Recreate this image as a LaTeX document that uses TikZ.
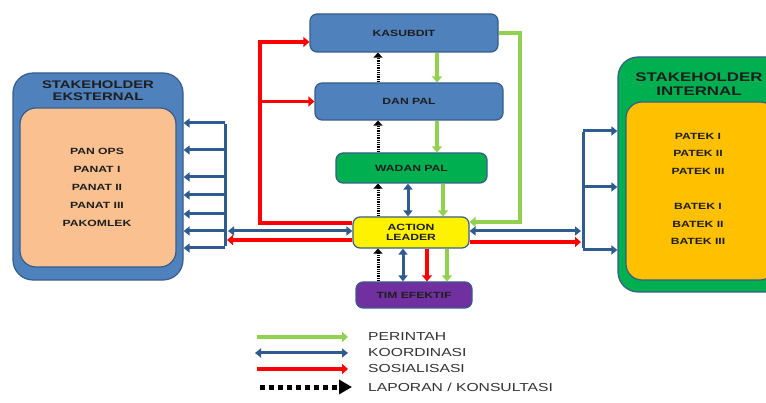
\documentclass[tikz,border=0pt]{standalone}
\usepackage{fontspec}
\setmainfont{Liberation Sans}[FakeStretch=1.35]
\usetikzlibrary{arrows.meta}
\definecolor{boxblue}{HTML}{4F81BD}
\definecolor{edgeblue}{HTML}{385D8A}
\definecolor{peach}{HTML}{FAC090}
\definecolor{gold}{HTML}{FFC000}
\definecolor{boxgreen}{HTML}{00B050}
\definecolor{purp}{HTML}{7030A0}
\definecolor{arrgreen}{HTML}{92D050}
\definecolor{arrblue}{HTML}{2F5B8F}
\definecolor{arrred}{HTML}{FF0000}
\definecolor{txt}{HTML}{1E1E1E}
\definecolor{legtxt}{HTML}{333333}
\begin{document}
\begin{tikzpicture}[x=1pt,y=-1pt,
  box/.style={draw=edgeblue, line width=1.2pt, rounded corners=7pt,
    font=\bfseries\fontsize{9}{10}\selectfont, text=txt, align=center, inner sep=0pt},
  big/.style={draw=edgeblue, line width=1.2pt, rounded corners=20pt, inner sep=0pt},
  lbl/.style={font=\bfseries\fontsize{9}{17.8}\selectfont, text=txt, align=center, inner sep=0pt},
  ttl/.style={font=\bfseries\fontsize{11}{11.5}\selectfont, text=txt, align=center, inner sep=0pt},
  leg/.style={font=\fontsize{11.6}{12}\selectfont, text=legtxt, anchor=west, inner sep=0pt},
  grn/.style={draw=arrgreen, line width=3.5pt, -{Triangle[length=6pt,width=10pt]}},
  rd/.style={draw=arrred, line width=3.5pt, -{Triangle[length=6pt,width=10pt]}},
  rdline/.style={draw=arrred, line width=3.5pt},
  blu/.style={draw=arrblue, line width=3pt, {Triangle[length=6pt,width=9pt]}-{Triangle[length=6pt,width=9pt]}},
  bluone/.style={draw=arrblue, line width=3pt, -{Triangle[length=6pt,width=9pt]}},
  blueline/.style={draw=arrblue, line width=3pt},
  dotarr/.style={draw=black, line width=3pt, dash pattern=on 1.3pt off 1pt, -{Triangle[length=5pt,width=9pt]}},
  legdot/.style={draw=black, line width=5pt, dash pattern=on 5pt off 4pt, -{Triangle[length=13pt,width=14pt]}}
]
\useasboundingbox (0,0) rectangle (766,403);
\clip (0,0) rectangle (766,403);
\fill[white] (0,0) rectangle (766,403);

% left stakeholder
\node[big, fill=boxblue, minimum width=170pt, minimum height=207pt] (eksout) at (98,176.5) {};
\node[big, fill=peach, rounded corners=16pt, minimum width=156pt, minimum height=159pt] (eksin) at (98,187.5) {};
\node[ttl] (ekst) at (98,90.5) {STAKEHOLDER\\EKSTERNAL};
\node[lbl] (ekslist) at (97,187.5) {PAN OPS\\PANAT I\\PANAT II\\PANAT III\\PAKOMLEK};

% right stakeholder
\node[big, fill=boxgreen, minimum width=174pt, minimum height=235pt] (intout) at (705,174.5) {};
\node[big, fill=gold, rounded corners=16pt, minimum width=150pt, minimum height=178pt] (intin) at (701,191) {};
\node[ttl, font=\bfseries\fontsize{12.5}{13.5}\selectfont] (intt) at (699,84) {STAKEHOLDER\\INTERNAL};
\node[lbl, font=\bfseries\fontsize{9}{17.6}\selectfont] (intlist) at (698,189) {PATEK I\\PATEK II\\PATEK III\\[17.6pt]BATEK I\\BATEK II\\BATEK III};

% central boxes
\node[box, fill=boxblue, minimum width=188pt, minimum height=38pt] (kas) at (404,33) {KASUBDIT};
\node[box, fill=boxblue, minimum width=188pt, minimum height=37pt] (dan) at (409,101.5) {DAN PAL};
\node[box, fill=boxgreen, minimum width=151pt, minimum height=30pt] (wad) at (411.5,168) {WADAN PAL};
\node[box, fill=yellow, minimum width=116pt, minimum height=31pt] (act) at (411,232.5) {ACTION\\LEADER};
\node[box, fill=purp, minimum width=116pt, minimum height=26pt] (tim) at (414,295) {TIM EFEKTIF};

% column coordinates
\coordinate (dx) at (378,0);
\coordinate (g1) at (437,0);
\coordinate (g2) at (443,0);
\coordinate (g3) at (447,0);
\coordinate (b1) at (408,0);
\coordinate (b2) at (403,0);
\coordinate (r1) at (427,0);

% dotted report arrows
\draw[dotarr] (dan.north -| dx) -- (kas.south -| dx);
\draw[dotarr] (wad.north -| dx) -- (dan.south -| dx);
\draw[dotarr] (act.north -| dx) -- (wad.south -| dx);
\draw[dotarr] (tim.north -| dx) -- (act.south -| dx);

% green command arrows
\draw[grn] (kas.south -| g1) -- (dan.north -| g1);
\draw[grn] (dan.south -| g1) -- (wad.north -| g1);
\draw[grn] (wad.south -| g2) -- (act.north -| g2);
\draw[grn] (act.south -| g3) -- (tim.north -| g3);

% blue coordination
\draw[blu] (wad.south -| b1) -- (act.north -| b1);
\draw[blu] (act.south -| b2) -- (tim.north -| b2);

% red socialisation down
\draw[rd] (act.south -| r1) -- (tim.north -| r1);

% green loop
\coordinate (gl) at (520,222);
\draw[grn] (kas.east) -| (gl) -- (act.east |- gl);

% red loop
\coordinate (rl) at (260,223);
\coordinate (rk) at (260,42);
\draw[rd] (act.west |- rl) -- (rl) -- (rk) -- (kas.west |- rk);
\draw[rd] (rl |- dan.west) -- (dan.west);

% left bracket
\foreach \n/\y in {1/123,2/150,3/177,4/195,5/214,6/231,7/248} {
  \coordinate (L\n) at (225,\y);
  \draw[bluone] (L\n) -- (eksout.east |- L\n);
}
\draw[blueline] ([yshift=-1.5pt]L1) -- ([yshift=1.5pt]L7);
\coordinate (lb1) at (228,231);
\coordinate (lr1) at (227,240);
\draw[blu] (lb1) -- (act.west |- lb1);
\draw[rd] (act.west |- lr1) -- (lr1);

% right bracket
\foreach \n/\y in {1/131,2/187,3/250} {
  \coordinate (R\n) at (583,\y);
  \draw[bluone] (R\n) -- (intout.west |- R\n);
}
\draw[blueline] ([yshift=-1.5pt]R1) -- ([yshift=1.5pt]R3);
\coordinate (rb1) at (581,231);
\coordinate (rr1) at (581,242);
\draw[blu] (act.east |- rb1) -- (rb1);
\draw[rd] (act.east |- rr1) -- (rr1);

% legend
\coordinate (lg1a) at (257,337); \coordinate (lg1b) at (348,337);
\coordinate (lg2a) at (255,353); \coordinate (lg2b) at (348,353);
\coordinate (lg3a) at (257,369); \coordinate (lg3b) at (348,369);
\coordinate (lg4a) at (260,387); \coordinate (lg4b) at (352,387);
\draw[grn] (lg1a) -- (lg1b);
\draw[blu] (lg2a) -- (lg2b);
\draw[rd] (lg3a) -- (lg3b);
\draw[legdot] (lg4a) -- (lg4b);
\node[leg] (t1) at (368,337) {PERINTAH};
\node[leg] (t2) at (368,353) {KOORDINASI};
\node[leg] (t3) at (368,369) {SOSIALISASI};
\node[leg] (t4) at (368,387) {LAPORAN / KONSULTASI};
\end{tikzpicture}
\end{document}
